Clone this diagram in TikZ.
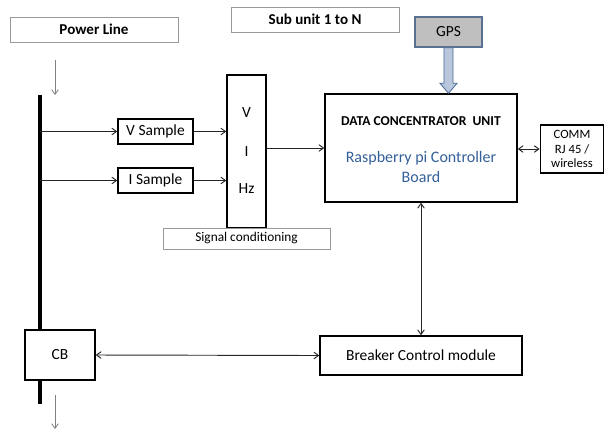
\documentclass[tikz,border=0pt]{standalone}
\usepackage{fontspec}
\setmainfont{Carlito}
\usetikzlibrary{arrows.meta}
\definecolor{gpsgray}{HTML}{BFBFBF}
\definecolor{gpsedge}{HTML}{5A7090}
\definecolor{arrowfill}{HTML}{B8C7DC}
\definecolor{arrowedge}{HTML}{4A6A94}
\definecolor{boardblue}{HTML}{34609A}
\begin{document}
\begin{tikzpicture}[x=0.75pt, y=-0.75pt,
    block/.style={draw=black, line width=1.1pt, fill=white, align=center, inner sep=1pt, font=\fontsize{11.6}{13}\selectfont},
    label box/.style={draw=gray!80, line width=0.6pt, fill=white, align=center, font=\bfseries\fontsize{11.3}{13}\selectfont},
    link/.style={-{Straight Barb[length=3.5pt, width=5pt]}, line width=0.7pt, draw=black!85},
    dlink/.style={{Straight Barb[length=3.5pt, width=5pt]}-{Straight Barb[length=3.5pt, width=5pt]}, line width=0.7pt, draw=black!85},
    flow/.style={-{Straight Barb[length=3.5pt, width=5pt]}, line width=0.6pt, draw=gray},
    bus/.style={line width=3pt, draw=black}]
    \useasboundingbox (0,0) rectangle (605,429);

    \node (power) [label box, minimum width=126pt, minimum height=18.75pt] at (94,29.5) {Power Line};
    \node (subunit) [label box, minimum width=126pt, minimum height=18.75pt] at (315,19.5) {Sub unit 1 to N};
    \node (gps) [block, draw=gpsedge, fill=gpsgray, minimum width=50.25pt, minimum height=22.5pt] at (448.5,32) {GPS};
    \node (dcu) [block, minimum width=144pt, minimum height=81pt] at (421,148) {};
    \node (dcutitle) [font=\bfseries\fontsize{10.2}{12}\selectfont] at (421,121) {DATA CONCENTRATOR\ \ UNIT};
    \node (board) [align=center, text=boardblue, font=\fontsize{12}{14.5}\selectfont] at (421,167) {Raspberry pi Controller\\Board};
    \node (comm) [block, minimum width=47.5pt, minimum height=36pt, font=\fontsize{9.5}{11}\selectfont] at (572,149) {COMM\\RJ 45 /\\wireless};
    \node (vsample) [block, minimum width=56.25pt, minimum height=18.75pt] at (155.5,131.5) {V Sample};
    \node (isample) [block, minimum width=56.25pt, minimum height=18.75pt] at (155.5,180.5) {I Sample};
    \node (sigbox) [block, minimum width=29.25pt, minimum height=114.75pt] at (246.5,151.5) {};
    \node (vlab) at (246.5,113) {\fontsize{11.6}{13}\selectfont V};
    \node (ilab) at (246.5,152) {\fontsize{11.6}{13}\selectfont I};
    \node (hzlab) at (246.5,189) {\fontsize{11.6}{13}\selectfont Hz};
    \node (sigcond) [label box, font=\fontsize{10}{12}\selectfont, minimum width=125.25pt, minimum height=15.75pt] at (246.5,238.5) {Signal conditioning};
    \node (cb) [block, minimum width=52.5pt, minimum height=37.5pt] at (60,355) {CB};
    \node (breaker) [block, minimum width=151.5pt, minimum height=29.25pt] at (421,355.5) {Breaker Control module};

    % power line bus
    \coordinate (bustop) at (40,95);
    \coordinate (busend) at (40,404);
    \coordinate (feedin) at (55,60);
    \coordinate (feedout) at (55,395);
    \coordinate (feedend) at (55,429);
    \draw [bus] (bustop) -- (bustop |- cb.north);
    \draw [bus] (busend |- cb.south) -- (busend);
    \draw [flow] (feedin) -- (feedin |- bustop);
    \draw [flow] (feedout) -- (feedend);

    \draw [link] (bustop |- vsample.west) -- (vsample.west);
    \draw [link] (bustop |- isample.west) -- (isample.west);
    \draw [link] (vsample.east) -- (vsample.east -| sigbox.west);
    \draw [link] (isample.east) -- (isample.east -| sigbox.west);
    \draw [link] (dcu.west -| sigbox.east) -- (dcu.west);
    \draw [dlink] (comm.west -| dcu.east) -- (comm.west);
    \draw [dlink] (dcu.south) -- (breaker.north);
    \draw [dlink] (cb.east) -- (breaker.west);

    % hollow gps arrow
    \draw [draw=arrowedge, fill=arrowfill, line width=0.6pt]
        ([xshift=-3.4pt]gps.south) -- ([xshift=-3.4pt, yshift=7.5pt]gps.south |- dcu.north)
        -- ([xshift=-6.4pt, yshift=7.5pt]gps.south |- dcu.north) -- (gps.south |- dcu.north)
        -- ([xshift=6.4pt, yshift=7.5pt]gps.south |- dcu.north) -- ([xshift=3.4pt, yshift=7.5pt]gps.south |- dcu.north)
        -- ([xshift=3.4pt]gps.south) -- cycle;
\end{tikzpicture}
\end{document}
